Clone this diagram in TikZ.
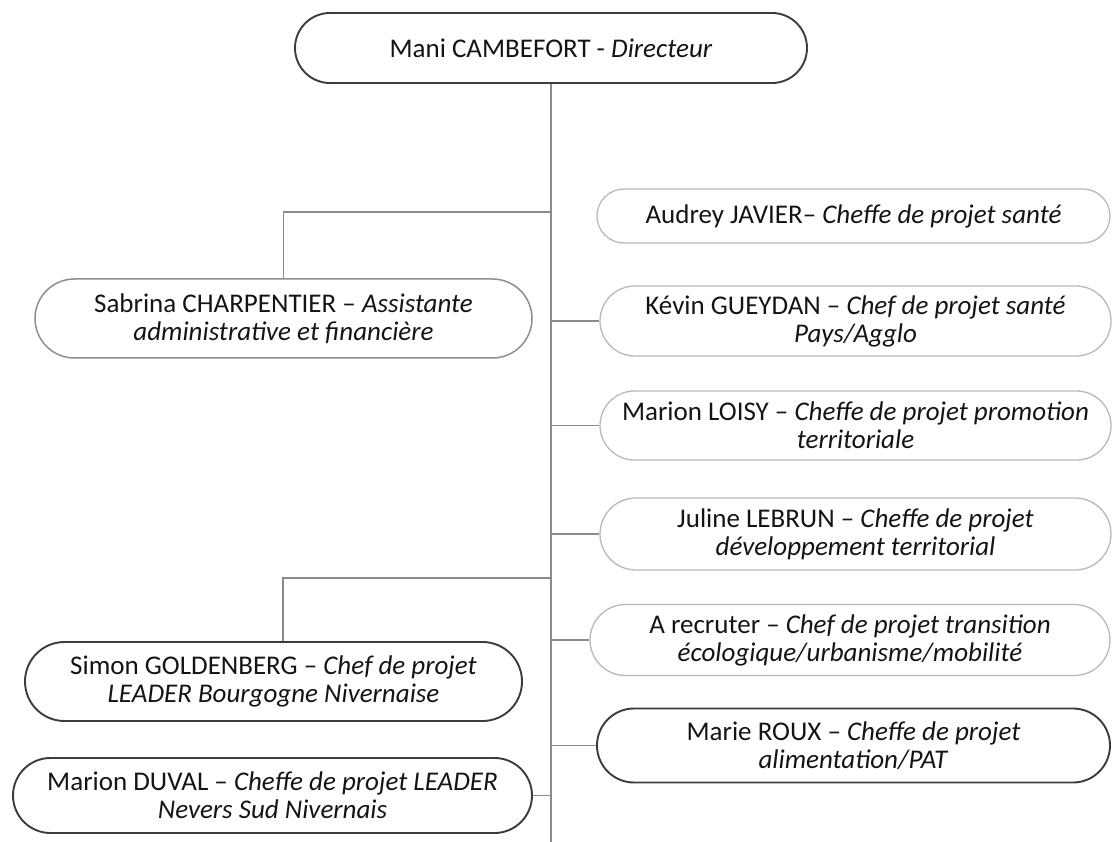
\documentclass[tikz,border=0pt]{standalone}
\usepackage{fontspec}
\setmainfont{Carlito}
\usepackage{tikz}
\usetikzlibrary{positioning}
\definecolor{fonce}{HTML}{3C3C3C}
\definecolor{moyen}{HTML}{8E8E8E}
\definecolor{clair}{HTML}{B8B8B8}
\definecolor{trait}{HTML}{8A8A8A}
\definecolor{texte}{HTML}{141414}
\newcommand{\orgfont}{\fontsize{27}{28}\selectfont}
\tikzset{boite/.style 2 args = {draw=fonce, line width=1.9pt,
                               minimum width=#1, minimum height=#2,
                               rounded corners=#2/2, inner sep=0pt,
                               align=center, font=\orgfont, text=texte}}
\tikzset{claire/.style = {draw=clair, line width=1.3pt}}
\tikzset{grise/.style = {draw=moyen, line width=1.5pt}}
\tikzset{trait/.style = {draw=trait, line width=1.2pt}}

\begin{document}
\begin{tikzpicture}[x=1pt, y=-1pt]
    \useasboundingbox (0, 0) rectangle (1114, 842);

    \node [boite={512pt}{70pt}] (dir) at (551, 48) {Mani CAMBEFORT - \textit{Directeur}};

    % gauche
    \node [boite={497pt}{79pt}, grise] (sabrina) at (283.5, 318.5)
        {Sabrina CHARPENTIER -- \textit{Assistante}\\ \textit{administrative et financière}};
    \node [boite={497pt}{79pt}] (simon) at (273.5, 681.5)
        {Simon GOLDENBERG -- \textit{Chef de projet}\\ \textit{LEADER Bourgogne Nivernaise}};
    \node [boite={519pt}{75pt}] (duval) at (272.5, 795.5)
        {Marion DUVAL -- \textit{Cheffe de projet LEADER}\\ \textit{Nevers Sud Nivernais}};

    % droite
    \node [boite={513pt}{54pt}, claire] (audrey) at (853.5, 216) {Audrey JAVIER-- \textit{Cheffe de projet santé}};
    \node [boite={511pt}{70pt}, claire] (kevin) at (855.5, 321)
        {Kévin GUEYDAN -- \textit{Chef de projet santé}\\ \textit{Pays/Agglo}};
    \node [boite={511pt}{69pt}, claire] (loisy) at (855.5, 425.5)
        {Marion LOISY -- \textit{Cheffe de projet promotion}\\ \textit{territoriale}};
    \node [boite={511pt}{72pt}, claire] (juline) at (855.5, 534)
        {Juline LEBRUN -- \textit{Cheffe de projet}\\ \textit{développement territorial}};
    \node [boite={520pt}{71pt}, claire] (recruter) at (850, 640)
        {A recruter -- \textit{Chef de projet transition}\\ \textit{écologique/urbanisme/mobilité}};
    \node [boite={513pt}{74pt}] (marie) at (853.5, 745.5)
        {Marie ROUX -- \textit{Cheffe de projet}\\ \textit{alimentation/PAT}};

    % liaisons
    \coordinate (bas) at (551, 842);
    \coordinate (jsab) at (551, 212);
    \coordinate (jsim) at (551, 578);
    \draw [trait] (dir.south) -- (bas);
    \draw [trait] (jsab) -| (sabrina.north);
    \draw [trait] (jsim) -| ([xshift=9.5pt]simon.north);
    \draw [trait] (duval.east) -- (duval.east -| bas);
    \foreach \n in {kevin, loisy, juline, recruter, marie}
        \draw [trait] (\n.west -| bas) -- (\n.west);
\end{tikzpicture}
\end{document}
